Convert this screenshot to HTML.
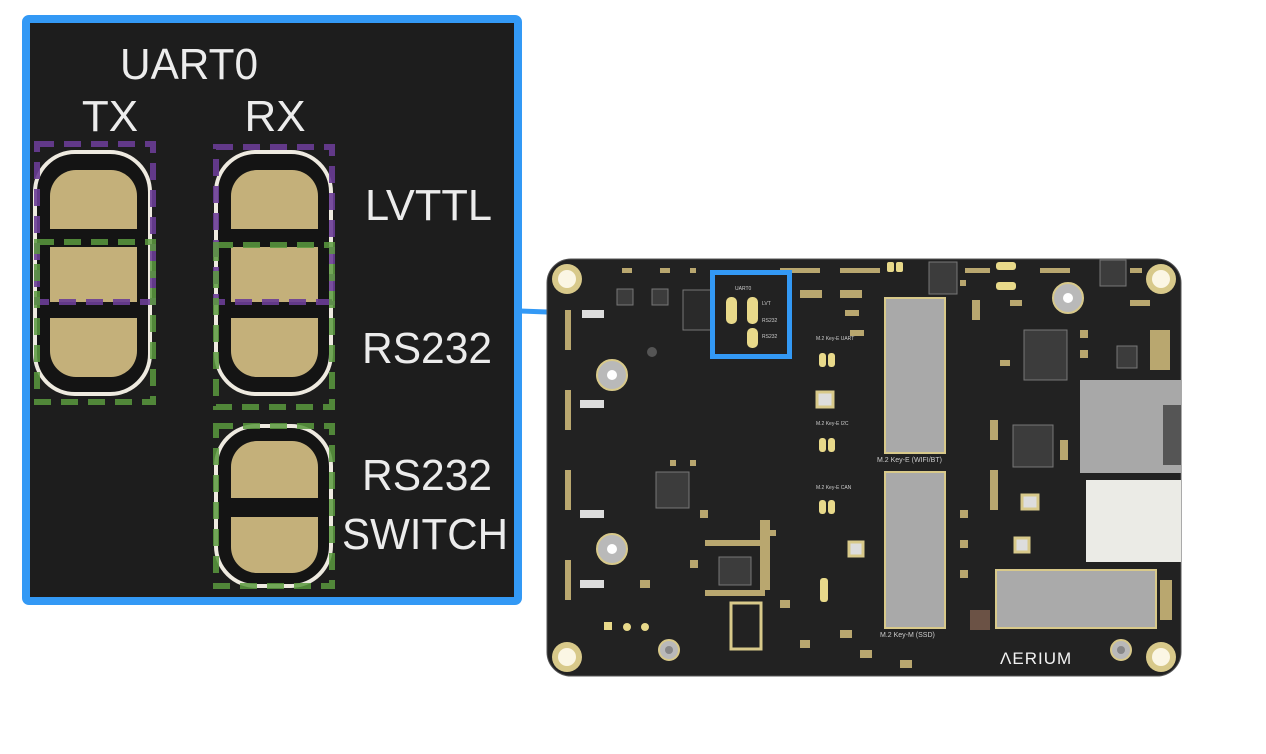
<!DOCTYPE html>
<html><head><meta charset="utf-8"><style>
html,body{margin:0;padding:0;background:#fff;width:1266px;height:754px;overflow:hidden}
svg{display:block}
text{font-family:"Liberation Sans","DejaVu Sans",sans-serif}
</style></head><body>
<svg width="1266" height="754" viewBox="0 0 1266 754" xmlns="http://www.w3.org/2000/svg">
<line x1="520" y1="311" x2="713" y2="318" stroke="#3399f5" stroke-width="5"/>

<rect x="26" y="19" width="492" height="582" fill="#1d1d1d" stroke="#3399f5" stroke-width="8" rx="3"/>
<g fill="#ececec" font-size="44">
<text x="189" y="79" text-anchor="middle" textLength="138" lengthAdjust="spacingAndGlyphs">UART0</text>
<text x="110" y="131" text-anchor="middle">TX</text>
<text x="275" y="131" text-anchor="middle">RX</text>
<text x="365" y="220" textLength="127" lengthAdjust="spacingAndGlyphs">LVTTL</text>
<text x="362" y="363" textLength="130" lengthAdjust="spacingAndGlyphs">RS232</text>
<text x="362" y="490" textLength="130" lengthAdjust="spacingAndGlyphs">RS232</text>
<text x="342" y="549" textLength="166" lengthAdjust="spacingAndGlyphs">SWITCH</text>
</g>
<rect x="35" y="152" width="115" height="242" rx="40" fill="#141414" stroke="#eeeae0" stroke-width="4"/>
<g fill="#c4b07a">
<path d="M50 229 V196 a26 26 0 0 1 26 -26 H111 a26 26 0 0 1 26 26 V229 Z"/>
<rect x="50" y="247" width="87" height="55"/>
<path d="M50 318 V351 a26 26 0 0 0 26 26 H111 a26 26 0 0 0 26 -26 V318 Z"/>
</g>
<rect x="216" y="152" width="115" height="242" rx="40" fill="#141414" stroke="#eeeae0" stroke-width="4"/>
<g fill="#c4b07a">
<path d="M231 229 V196 a26 26 0 0 1 26 -26 H292 a26 26 0 0 1 26 26 V229 Z"/>
<rect x="231" y="247" width="87" height="55"/>
<path d="M231 318 V351 a26 26 0 0 0 26 26 H292 a26 26 0 0 0 26 -26 V318 Z"/>
</g>
<rect x="216" y="426" width="115" height="160" rx="40" fill="#141414" stroke="#eeeae0" stroke-width="4"/>
<g fill="#c4b07a">
<path d="M231 498 V467 a26 26 0 0 1 26 -26 H292 a26 26 0 0 1 26 26 V498 Z"/>
<path d="M231 517 V547 a26 26 0 0 0 26 26 H292 a26 26 0 0 0 26 -26 V517 Z"/>
</g>
<g fill="none" stroke-width="6" stroke-dasharray="17 10">
<rect x="37" y="144" width="116" height="158" stroke="#6a3d96" opacity="0.9"/>
<rect x="37" y="242" width="116" height="160" stroke="#5b9a3e" opacity="0.85"/>
<rect x="216" y="147" width="116" height="155" stroke="#6a3d96" opacity="0.9"/>
<rect x="216" y="245" width="116" height="162" stroke="#5b9a3e" opacity="0.85"/>
<rect x="216" y="426" width="116" height="160" stroke="#5b9a3e" opacity="0.85"/>
</g>

<rect x="547" y="259" width="634" height="417" rx="24" fill="#222222" stroke="#555" stroke-width="1"/>
<g fill="#d8c98a"><circle cx="567" cy="279" r="15"/><circle cx="1161" cy="279" r="15"/><circle cx="567" cy="657" r="15"/><circle cx="1161" cy="657" r="15"/></g>
<g fill="#fbf6e4"><circle cx="567" cy="279" r="9"/><circle cx="1161" cy="279" r="9"/><circle cx="567" cy="657" r="9"/><circle cx="1161" cy="657" r="9"/></g>
<g fill="#b9b9b9" stroke="#d8c98a" stroke-width="2"><circle cx="612" cy="375" r="15"/><circle cx="612" cy="549" r="15"/><circle cx="1068" cy="298" r="15"/><circle cx="669" cy="650" r="10"/><circle cx="1121" cy="650" r="10"/></g>
<g fill="#fff"><circle cx="612" cy="375" r="5"/><circle cx="612" cy="549" r="5"/><circle cx="1068" cy="298" r="5"/><circle cx="669" cy="650" r="4" fill="#888"/><circle cx="1121" cy="650" r="4" fill="#888"/></g>
<circle cx="652" cy="352" r="5" fill="#555"/>
<rect x="885" y="298" width="60" height="155" fill="#a9a9a9" stroke="#d8c98a" stroke-width="2"/>
<rect x="885" y="472" width="60" height="156" fill="#a9a9a9" stroke="#d8c98a" stroke-width="2"/>
<rect x="996" y="570" width="160" height="58" fill="#aaaaaa" stroke="#d8c98a" stroke-width="2"/>
<text x="877" y="462" font-size="7" fill="#ccc">M.2 Key-E (WIFI/BT)</text>
<text x="880" y="637" font-size="7" fill="#ccc">M.2 Key-M (SSD)</text>
<rect x="1080" y="380" width="101" height="93" fill="#a8a8a8"/>
<rect x="1163" y="405" width="18" height="60" fill="#555"/>
<rect x="1086" y="480" width="95" height="82" fill="#ebebe6"/>
<g fill="#3c3c3c" stroke="#777" stroke-width="1">
<rect x="1024" y="330" width="43" height="50"/>
<rect x="1013" y="425" width="40" height="42"/>
<rect x="656" y="472" width="33" height="36"/>
<rect x="719" y="557" width="32" height="28"/>
<rect x="929" y="262" width="28" height="32"/>
<rect x="1100" y="260" width="26" height="26"/>
<rect x="1117" y="346" width="20" height="22"/>
<rect x="617" y="289" width="16" height="16"/>
<rect x="652" y="289" width="16" height="16"/>
<rect x="683" y="290" width="30" height="40" fill="#2a2a2a"/>
</g>
<rect x="731" y="603" width="30" height="46" fill="none" stroke="#d8c98a" stroke-width="3"/>
<g fill="#ddd" stroke="#d8c98a" stroke-width="3"><rect x="817" y="392" width="16" height="15"/><rect x="849" y="542" width="14" height="14"/><rect x="1015" y="538" width="14" height="14"/><rect x="1022" y="495" width="16" height="14"/></g>
<g fill="#e8d98a">
<rect x="819" y="353" width="7" height="14" rx="3"/><rect x="828" y="353" width="7" height="14" rx="3"/>
<rect x="819" y="438" width="7" height="14" rx="3"/><rect x="828" y="438" width="7" height="14" rx="3"/>
<rect x="819" y="500" width="7" height="14" rx="3"/><rect x="828" y="500" width="7" height="14" rx="3"/>
<rect x="820" y="578" width="8" height="24" rx="3"/>
<rect x="887" y="262" width="7" height="10" rx="2"/><rect x="896" y="262" width="7" height="10" rx="2"/>
<rect x="996" y="262" width="20" height="8" rx="3"/><rect x="996" y="282" width="20" height="8" rx="3"/>
<rect x="604" y="622" width="8" height="8"/><circle cx="627" cy="627" r="4"/><circle cx="645" cy="627" r="4"/>
</g>
<g fill="#b9a76f">
<rect x="565" y="310" width="6" height="40"/><rect x="565" y="390" width="6" height="40"/><rect x="565" y="470" width="6" height="40"/><rect x="565" y="560" width="6" height="40"/>
<rect x="622" y="268" width="10" height="5"/><rect x="660" y="268" width="10" height="5"/><rect x="690" y="268" width="6" height="5"/>
<rect x="780" y="268" width="40" height="5"/><rect x="840" y="268" width="40" height="5"/><rect x="965" y="268" width="25" height="5"/>
<rect x="1040" y="268" width="30" height="5"/><rect x="1130" y="268" width="12" height="5"/>
<rect x="972" y="300" width="8" height="20"/><rect x="990" y="420" width="8" height="20"/><rect x="990" y="470" width="8" height="40"/>
<rect x="1130" y="300" width="20" height="6"/><rect x="1150" y="330" width="20" height="40"/>
<rect x="1160" y="580" width="12" height="40"/><rect x="760" y="520" width="10" height="70"/>
<rect x="970" y="610" width="20" height="20" fill="#6b5245"/>
<rect x="580" y="400" width="24" height="8" fill="#ddd"/><rect x="580" y="510" width="24" height="8" fill="#ddd"/>
<rect x="580" y="580" width="24" height="8" fill="#ddd"/><rect x="582" y="310" width="22" height="8" fill="#ddd"/>
<rect x="705" y="540" width="60" height="6"/><rect x="705" y="590" width="60" height="6"/>
<rect x="670" y="460" width="6" height="6"/><rect x="690" y="460" width="6" height="6"/>
<rect x="800" y="290" width="22" height="8"/><rect x="840" y="290" width="22" height="8"/>
<rect x="845" y="310" width="14" height="6"/><rect x="850" y="330" width="14" height="6"/>
<rect x="960" y="280" width="6" height="6"/><rect x="1010" y="300" width="12" height="6"/>
<rect x="1080" y="330" width="8" height="8"/><rect x="1080" y="350" width="8" height="8"/>
<rect x="1000" y="360" width="10" height="6"/><rect x="1060" y="440" width="8" height="20"/>
<rect x="960" y="510" width="8" height="8"/><rect x="960" y="540" width="8" height="8"/><rect x="960" y="570" width="8" height="8"/>
<rect x="780" y="600" width="10" height="8"/><rect x="800" y="640" width="10" height="8"/><rect x="840" y="630" width="12" height="8"/>
<rect x="860" y="650" width="12" height="8"/><rect x="900" y="660" width="12" height="8"/>
<rect x="700" y="510" width="8" height="8"/><rect x="770" y="530" width="6" height="6"/>
<rect x="640" y="580" width="10" height="8"/><rect x="690" y="560" width="8" height="8"/>
</g>
<text x="1000" y="664" font-size="17" fill="#f2f2f2" letter-spacing="1">ΛERIUM</text>
<text x="816" y="340" font-size="5" fill="#ccc">M.2 Key-E UART</text>
<text x="816" y="425" font-size="5" fill="#ccc">M.2 Key-E I2C</text>
<text x="816" y="489" font-size="5" fill="#ccc">M.2 Key-E CAN</text>
<rect x="712.5" y="272.5" width="77" height="84" fill="none" stroke="#3399f5" stroke-width="5"/>
<g fill="#e8d98a">
<rect x="726" y="297" width="11" height="27" rx="5"/><rect x="747" y="297" width="11" height="27" rx="5"/><rect x="747" y="328" width="11" height="20" rx="5"/>
</g>
<text x="735" y="290" font-size="5" fill="#ccc">UART0</text>
<text x="762" y="305" font-size="5" fill="#ccc">LVT</text>
<text x="762" y="322" font-size="5" fill="#ccc">RS232</text>
<text x="762" y="338" font-size="5" fill="#ccc">RS232</text>
</svg>
</body></html>
